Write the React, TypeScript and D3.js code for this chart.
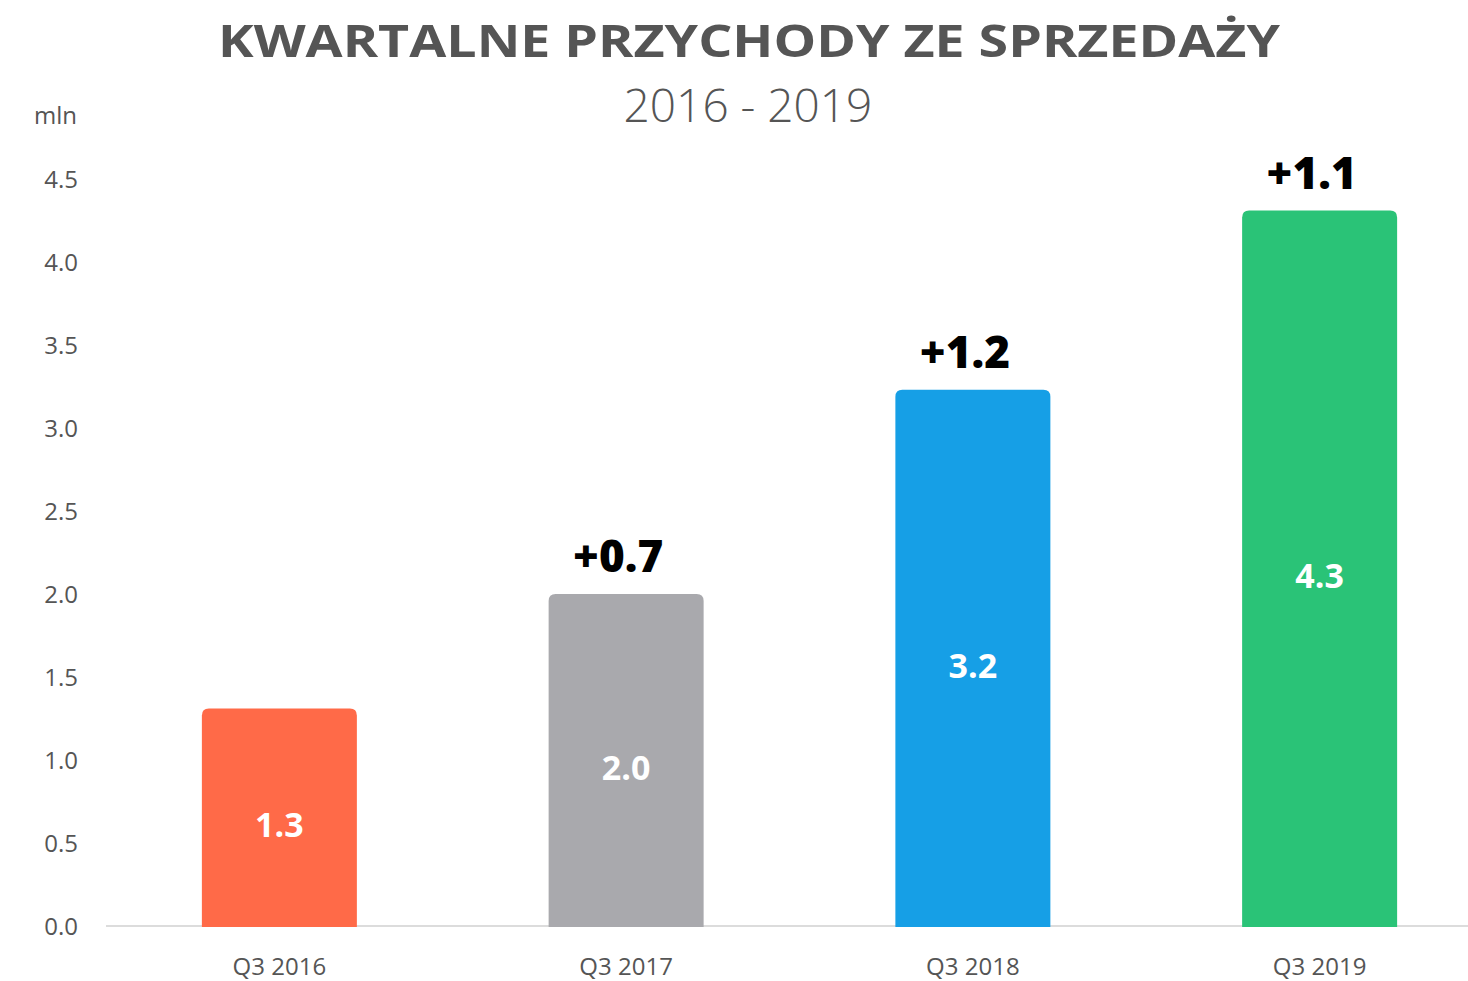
import * as d3 from 'd3'
import * as React from 'react'

//------------------------------data------------------------------
const categories = ['Q3 2016', 'Q3 2017', 'Q3 2018', 'Q3 2019']
const revenue = [1.31, 2.0, 3.23, 4.31]
const valueLabels = ['1.3', '2.0', '3.2', '4.3']
const deltaLabels = ['', '+0.7', '+1.2', '+1.1']
const barColors = ['#FF6A48', '#A9A9AD', '#169FE6', '#2AC377']
const yTicks = [0, 0.5, 1, 1.5, 2, 2.5, 3, 3.5, 4, 4.5]

const WIDTH = 1468
const HEIGHT = 981
const FONT = "'Open Sans', 'DejaVu Sans', sans-serif"

//------------------------------Component------------------------------
const App: React.FunctionComponent = () => {
  const x = d3
    .scaleBand<string>()
    .domain(categories)
    .range([106, 1493])
    .paddingInner(0.553)
    .paddingOuter(0.2765)
  const y = d3.scaleLinear().domain([0, 4.5]).range([926, 179])

  const barPath = (x0: number, w: number, top: number, bottom: number) => {
    const r = 7
    const p = d3.path()
    p.moveTo(x0, bottom)
    p.lineTo(x0, top + r)
    p.quadraticCurveTo(x0, top, x0 + r, top)
    p.lineTo(x0 + w - r, top)
    p.quadraticCurveTo(x0 + w, top, x0 + w, top + r)
    p.lineTo(x0 + w, bottom)
    p.closePath()
    return p.toString()
  }

  return (
    <svg
      width={WIDTH}
      height={HEIGHT}
      style={{ position: 'absolute', left: 0, top: 0, fontFamily: FONT }}
    >
      <rect width={WIDTH} height={HEIGHT} fill="#fff" />
      {/* title */}
      <text
        x={749}
        y={57}
        textAnchor="middle"
        fontSize={44}
        fontWeight={700}
        fill="#555"
        textLength={1062}
        lengthAdjust="spacingAndGlyphs"
      >
        KWARTALNE PRZYCHODY ZE SPRZEDAŻY
      </text>
      <text x={748} y={122} textAnchor="middle" fontSize={46} fontWeight={300} fill="#555">
        2016 - 2019
      </text>
      <text x={77} y={124} textAnchor="end" fontSize={24} fill="#555">
        mln
      </text>

      {/* y axis labels */}
      {yTicks.map(t => (
        <text key={t} x={78} y={y(t) + 9} textAnchor="end" fontSize={24} fill="#555">
          {t.toFixed(1)}
        </text>
      ))}

      {/* baseline */}
      <line x1={106} x2={WIDTH} y1={y(0)} y2={y(0)} stroke="#dcdcdc" strokeWidth={2} />

      {/* bars */}
      {categories.map((c, i) => {
        const x0 = x(c) as number
        const top = y(revenue[i])
        const mid = (top + y(0)) / 2
        const cx = x0 + x.bandwidth() / 2
        return (
          <g key={c}>
            <path d={barPath(x0, x.bandwidth(), top, y(0) + 1)} fill={barColors[i]} />
            <text
              x={cx}
              y={mid + 20}
              textAnchor="middle"
              fontSize={34}
              fontWeight={700}
              fill="#fff"
            >
              {valueLabels[i]}
            </text>
            {deltaLabels[i] && (
              <text
                x={cx - 8}
                y={top - 22}
                textAnchor="middle"
                fontSize={44}
                fontWeight={800}
                fill="#000"
              >
                {deltaLabels[i]}
              </text>
            )}
            <text x={cx} y={975} textAnchor="middle" fontSize={24} fill="#555">
              {c}
            </text>
          </g>
        )
      })}
    </svg>
  )
}

export default App
